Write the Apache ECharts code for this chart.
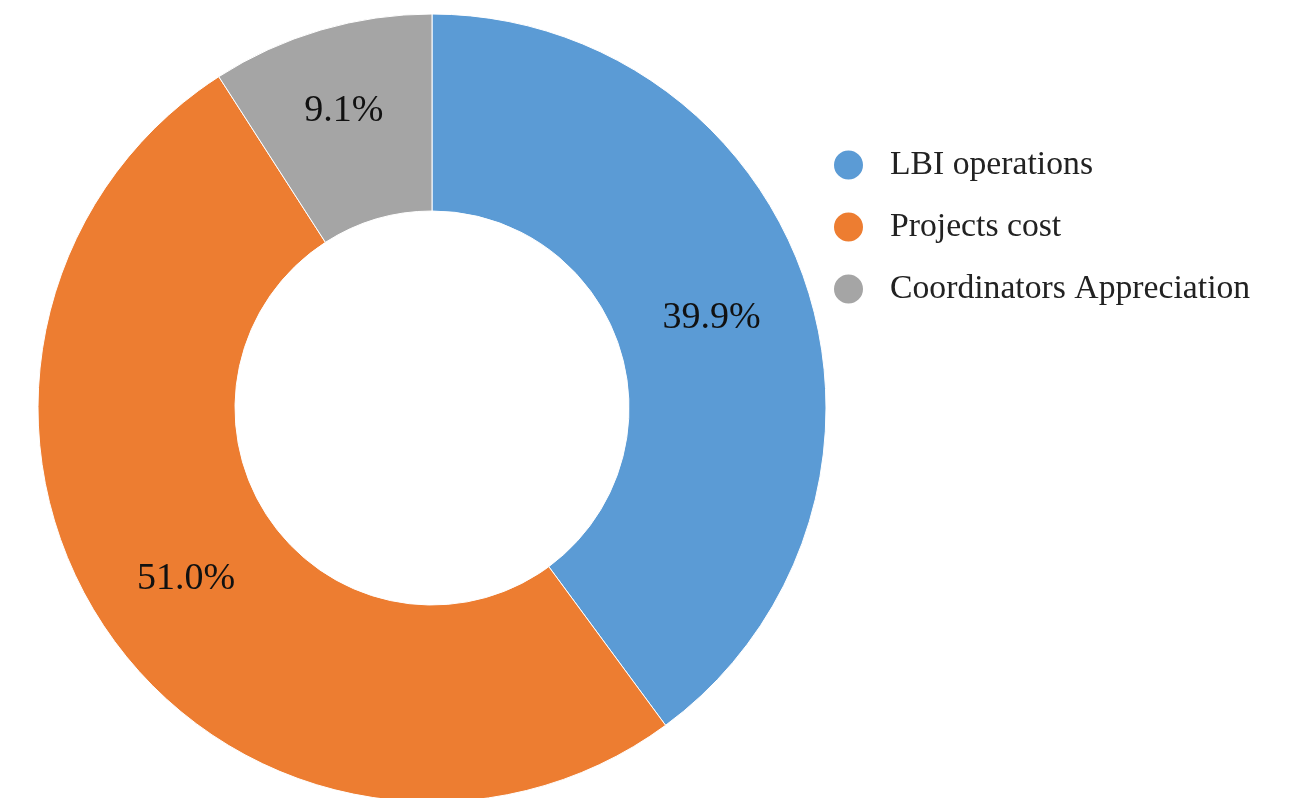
<!DOCTYPE html>
<html>
<head>
<meta charset="utf-8">
<script src="https://cdn.jsdelivr.net/npm/echarts@6/dist/echarts.min.js"></script>
<style>
html,body{margin:0;padding:0;background:#fff;}
#chart{width:1295px;height:798px;}
</style>
</head>
<body>
<div id="chart"></div>
<script>
const categories = ['LBI operations', 'Projects cost', 'Coordinators Appreciation'];
const values = [39.9, 51.0, 9.1];
const colors = ['#5B9BD5', '#ED7D31', '#A5A5A5'];

const chart = echarts.init(document.getElementById('chart'), null, {renderer: 'canvas'});
const font = "'Liberation Serif', 'Times New Roman', serif";
const labelOffsets = [[-4, 3], [0, 2], [-4, -11]];
chart.setOption({
  animation: false,
  backgroundColor: '#ffffff',
  color: colors,
  legend: {
    orient: 'vertical',
    left: 827,
    top: 143,
    padding: 5,
    icon: 'circle',
    itemWidth: 31,
    itemHeight: 31,
    itemGap: 28,
    data: categories,
    textStyle: {
      fontFamily: font,
      fontSize: 33.7,
      color: '#222',
      padding: [0, 0, 0, 21]
    }
  },
  series: [{
    type: 'pie',
    center: [432, 408],
    radius: [197, 394],
    startAngle: 90,
    clockwise: true,
    avoidLabelOverlap: false,
    itemStyle: {borderColor: '#ffffff', borderWidth: 1},
    label: {
      show: true,
      position: 'inside',
      fontFamily: font,
      fontSize: 38,
      color: '#111',
      formatter: p => p.value.toFixed(1) + '%'
    },
    labelLine: {show: false},
    emphasis: {disabled: true},
    data: categories.map((c, i) => ({name: c, value: values[i], label: {offset: labelOffsets[i]}}))
  }]
});
</script>
</body>
</html>
